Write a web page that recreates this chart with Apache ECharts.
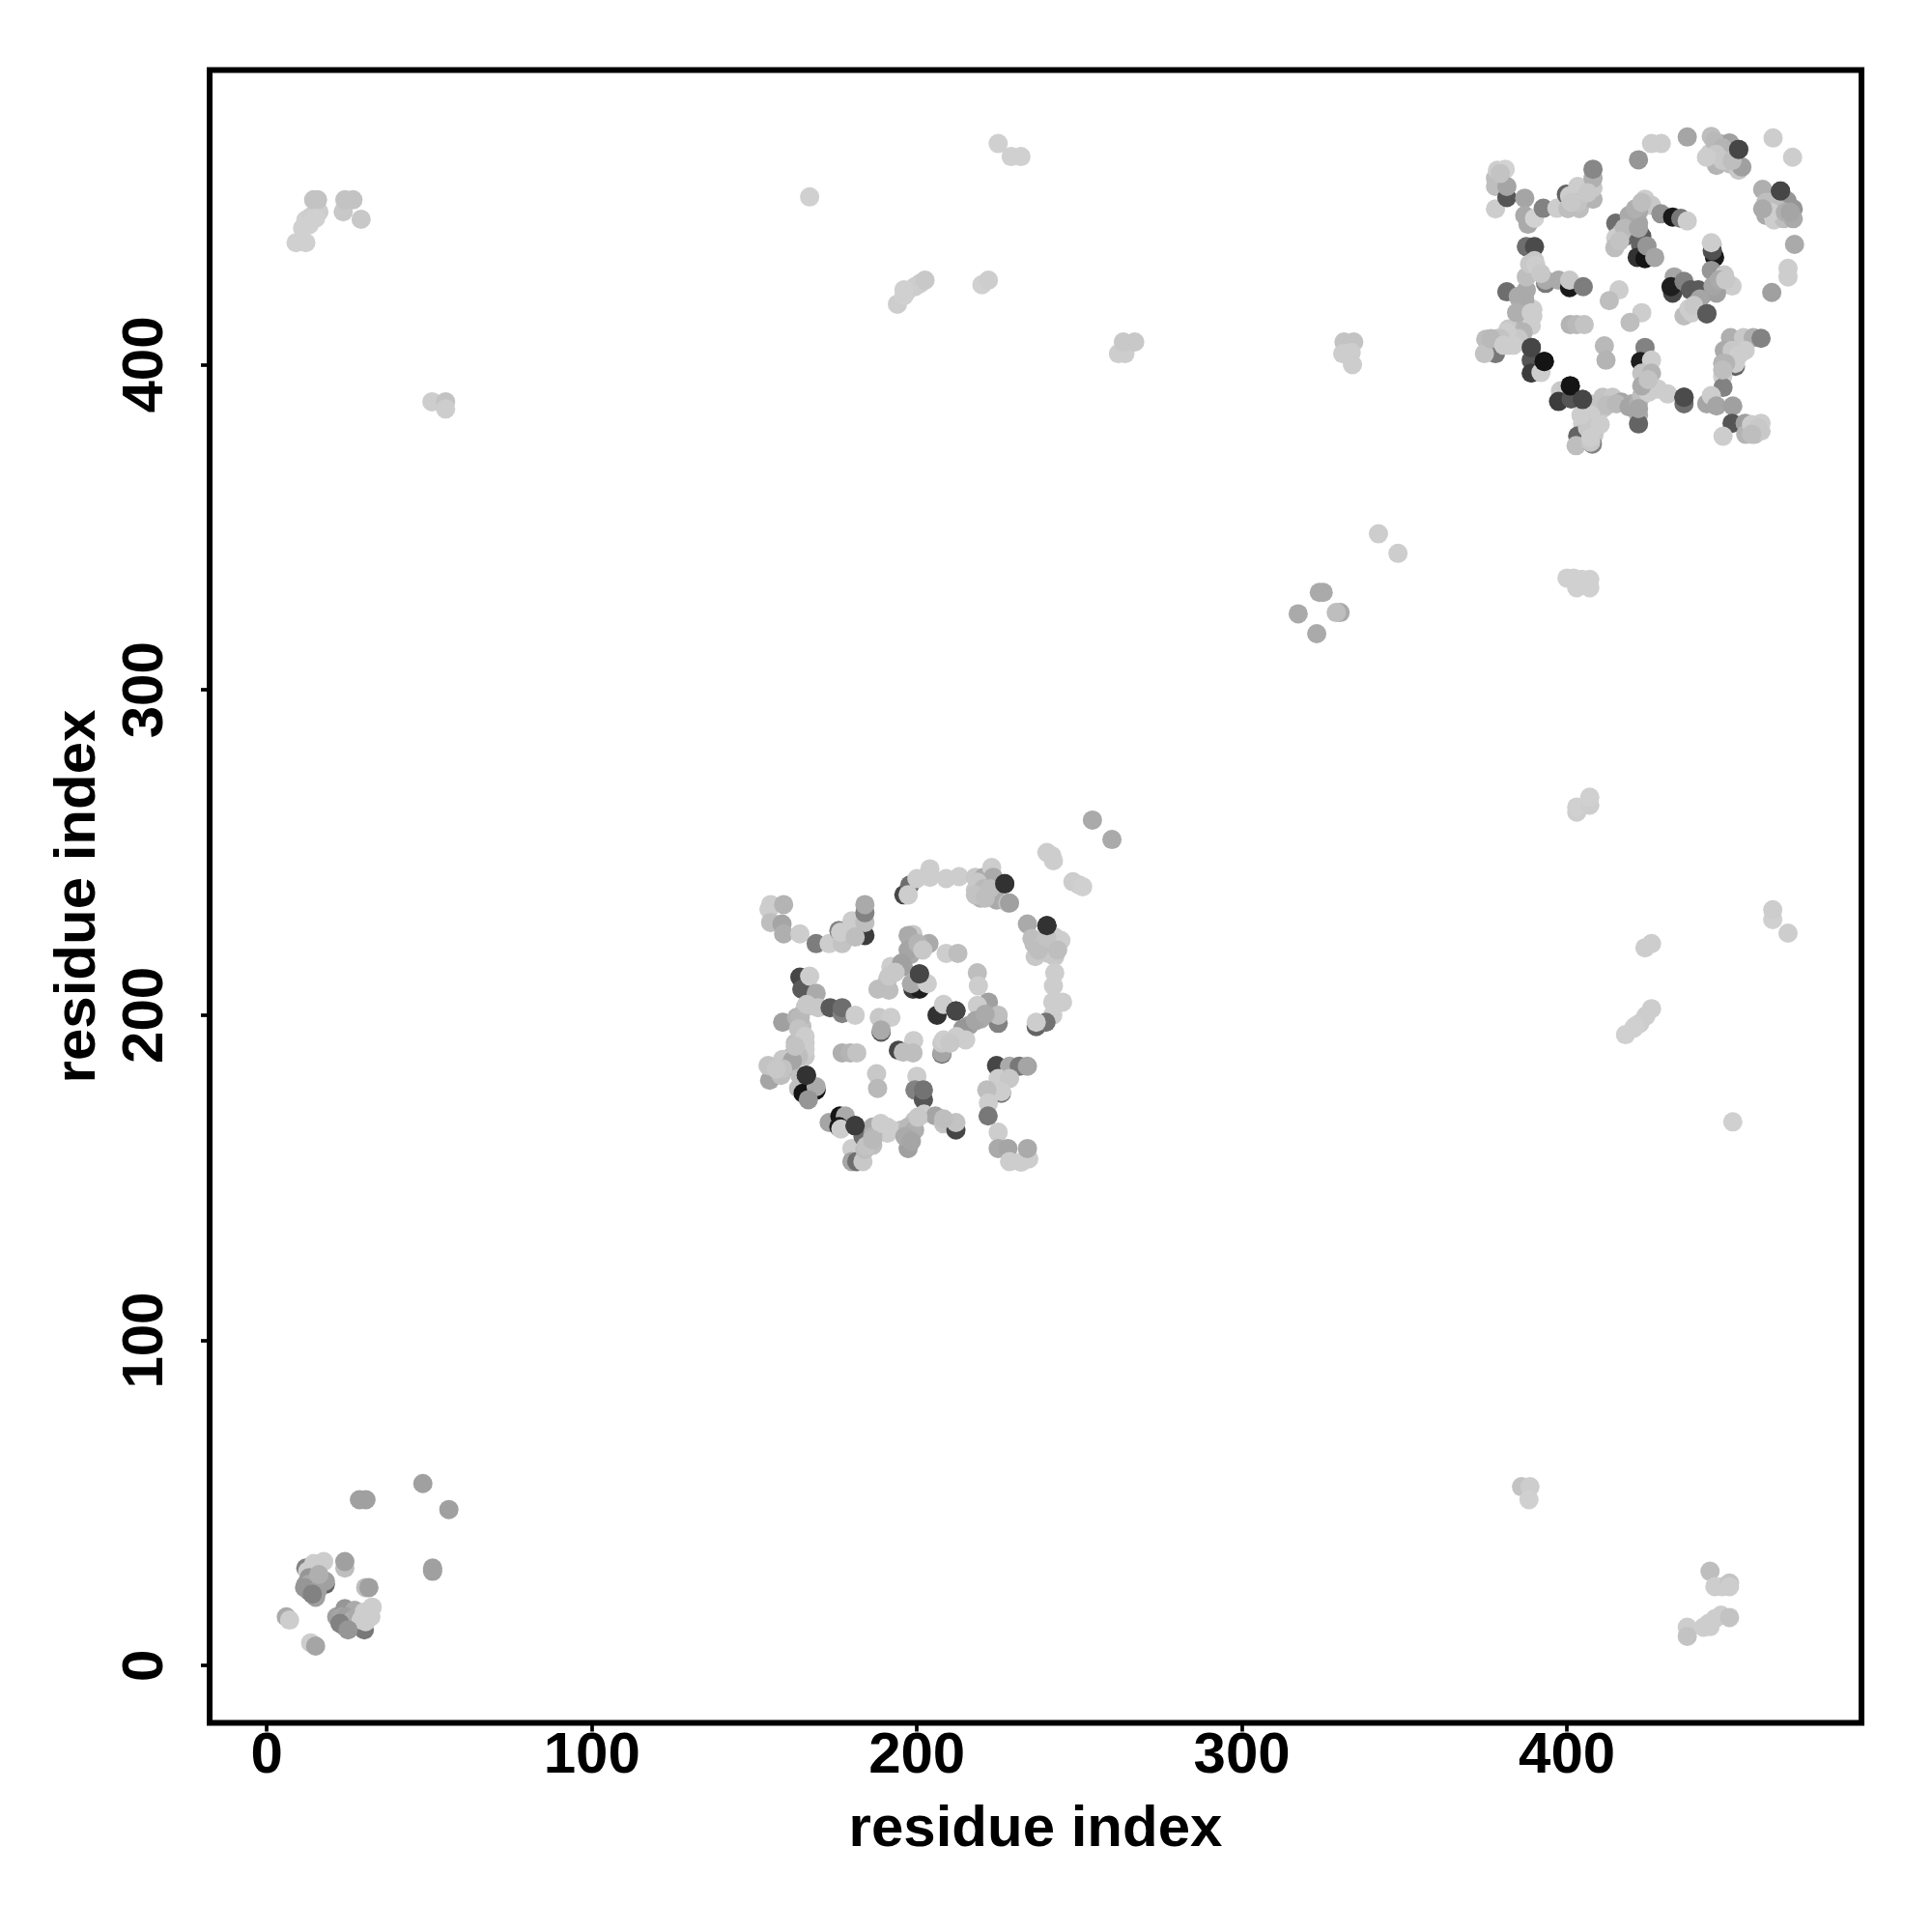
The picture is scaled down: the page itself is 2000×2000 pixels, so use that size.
<!DOCTYPE html>
<html><head><meta charset="utf-8">
<style>html,body{margin:0;background:#fff}#c{width:2000px;height:2000px}</style>
<script src="https://cdn.jsdelivr.net/npm/echarts@6/dist/echarts.min.js"></script></head>
<body><div id="c"></div>
<script>
// each point: [residue x, residue y, grey level]
const tickValues = [0, 100, 200, 300, 400];
const axisTitle = 'residue index';
const isolatedContacts = [
[9,437.5,208],[12,437.5,208],[11,442,208],[12,444.5,208],[13.6,445.5,205],[16,447,205],[14.4,450.7,195],[15.6,450.7,195],[23.5,447,200],[24,450.7,195],[26.5,450.7,195],[29,444.7,200],[13,443,208],[15,445,208],
[167,451.6,208],[225,468,208],[229,464,208],[232,464,208],
[194,418.6,205],[196,421.2,208],[197,422.7,208],[199.4,424,205],[201,425,205],[202.5,426,200],[196,423,208],
[220,424.6,208],[222,426,205],
[262,403.4,205],[264,403.4,205],[263.5,407,200],[267,407,200],
[331.4,407,195],[334.4,407,195],[331,403.4,205],[334,400,205],[333.6,403.8,205],
[50.8,388.6,205],[55,388.6,195],[55,386.4,205],
[342,348,205],[348,342,205],
[323.8,330,170],[325,330,170],[317.3,323.4,170],[330.2,323.8,170],[329,323.8,190],[323,317.3,170],
[400,334.4,208],[402,334.4,208],[404.5,334,208],[407,334,208],[403,331.4,208],[407,331.4,208],
[403,262.4,205],[403,264,208],[407,264.6,205],[407,267,208],
[424,220.7,205],[426,222,205],
[463.3,229.4,208],[463.3,232.4,205],[468,225.2,205],
[418,194,208],[420.5,196,208],[422.4,197.5,205],[424.3,199.8,205],[426,202,205],[421,196.6,208],
[451,167.2,208],
[386,55,195],[388.6,55,205],[388.3,51,208],
[444,29,190],[445.5,24.3,205],[447.8,24.3,205],[450,25.4,195],[450,24.3,205],
[437,11.8,205],[437,9,195],[442,11.8,205],[443.6,13,205],[445.5,14.4,205],[447.4,15.5,205],[450,14.8,195],[444,12,205],
[240,250,205],[241.5,249,205],[242,247.5,205],[248,241,205],[250,240,205],[251,239.5,208],
[254,260,170],[260,254,170]
];
const clusterNearOrigin = [
[28.5,51,160],[30.5,51,160],[48,56,160],[56,48,160],[51,30,160],[51,29,160],
[24,30,190],[24,32,160],[30.4,24,190],[31.4,24,160],
[12,30,130],[12,25,160],[13,23,130],[15,21,160],[12.6,29,205],[16.5,26,170],[18,25,100],[18,26,160],[14.5,31.4,205],[17.5,32,205],
[6,15,170],[7,14,205],[13.5,7,205],[15,6,165],
[21.5,15,160],[24,17.5,150],[23.5,13,120],[24,12,160],[27,17,170],[28,12,170],[30,11,120],[30,15,205],[32.4,18,205],[32,15,205],[30.4,13.5,205]
];
const clusterMiddle = [
[197.3,237,205],[196,237,70],[197.8,240,110],[197.3,237,205],[200,242,205],[204,245,205],[204,242.4,205],[209,242,205],[213,242.6,205],[218,242.4,200],[220.6,242.4,170],[223,245.4,205],[223.5,242.4,170],[218,238.4,200],[219.6,236,180],[224.5,235.4,170],[227,240.4,50],[228,234.5,195],[228.5,234.5,160],
[155,234,205],[154.5,232.5,205],[159,234,180],[155,228.5,190],[158.5,228,165],[159,225,175],[164,225,205],[169,222,125],[173,222,205],[177,222,195],[176,226,130],[176.5,225.5,205],[180,229,205],[184,224.5,60],[181,224,190],[184,228.5,190],[184,231.5,130],[184,234,170],
[234,228,170],[240,227.5,50],[235.4,223.6,190],[236.4,218,200],[242.8,221,160],[244.3,223,205],[242.4,224,205],[242.4,218,200],[242.4,213,205],[242,209,205],[244.8,204,205],[241.8,204,205],[241.8,200,205],[236.7,196.5,100],[239.7,197.8,115],[236.7,197.8,205],
[198.8,224.8,200],[197.3,224.5,170],[198,218.6,170],[195.8,215,160],[192,215,205],[201,221,190],[203.7,222,170],[209,219,205],[212.6,219,190],[191,211,195],[188,208,190],[191.4,207.7,190],[198.8,208,60],[200.8,208,30],[198.3,209.7,170],[200.8,212.7,70],[203.2,209.7,205],
[218.6,213,190],[218.9,209,205],[206.2,200,50],[208.2,203.3,205],[212,201.3,70],[222,204,160],[218.6,203,205],[225,197.5,130],[225,200,190],[219.6,198.8,170],[216,196.8,160],[214.1,195.8,150],[212,193,205],[215,192.4,205],[207.7,188,100],[207.7,188.4,165],[207.7,191.4,200],[208.2,192.4,205],
[164,211.7,70],[164.6,208,90],[167,212,205],[169,206.7,170],[165.6,202.3,200],[169.6,202.3,200],[173.3,202.3,90],[177,200.5,130],[177,202.3,110],[181,200,205],[158.7,197.8,160],[163,199.3,180],[164.6,196.5,190],[162.6,191.4,190],[165.6,191.4,205],[165.6,187.4,200],[161.7,187.4,170],[158.7,186.4,200],[154.7,180,165],[154.2,184.5,195],[158.2,181.5,190],[161,184.5,130],[164,181.5,190],[166,181.5,50],[163.6,177.5,190],[165,176,20],[169,177,20],[169,178,170],[166.6,174,150],
[177,188.4,175],[179.5,188.4,180],[181.5,188.4,195],[188.4,199.3,200],[192,199.3,205],[189,194.8,90],[189,195.4,170],[199,192.2,205],[194.3,189.2,70],[195.8,188.6,190],[198.8,188.4,190],[187.6,182,200],[187.9,177.5,185],[200,181.2,205],[199.4,177,130],[202,174,85],[202,177,115],
[173,167,165],[176.3,169,20],[178,169,170],[176,165.7,25],[176.6,165,205],[181,166,60],[180,159,205],[180,155,165],[181.5,155,110],[183.4,155,200],[184,158.7,190],[183.4,162.7,110],[186.4,165.6,170],[186.4,160,190],[190.9,165.6,205],[190.9,163.7,205],[195.3,164.7,190],[197.3,159,160],[198.3,163.7,175],[199.3,167.6,195],[202.2,169.6,205],[205.7,169,165],[208.2,166.6,195],[212,164.7,70],[212,167,195],
[224.5,184.5,70],[228.5,184.3,170],[231.5,184.3,120],[234,184.3,165],[225,180.5,205],[228.5,180.5,200],[226,176,120],[226,176.5,205],[221.5,177,190],[222,173,205],[221.9,169,120],[225,164,205],[225,159,170],[228,159,165],[228.5,155,205],[232,154.8,205],[234.4,155.8,205],[234,159,170]
];
const clusterUpperRight = [
[378,454.8,190],[378,457.3,190],[378.6,459.8,205],[381,460.1,210],[378,447.9,205],[381.5,451.4,85],[381.5,454.8,165],[387,451.2,165],[388,443.2,170],[387,445.9,170],[390,445,210],[392.7,448.1,130],[396.9,448.1,205],[399.8,452.4,100],[400.3,448,190],[403.8,448,190],[400.8,451.9,205],[403.3,454.8,205],[403.3,451.4,205],[408,450.9,180],[408,454.4,200],[408,457.3,175],[408,460.1,135],
[422,463,150],[426,468,205],[429,468,205],[437,470,165],
[444.4,470.2,190],[444,465,205],[447,468,180],[450,468.2,160],[444.4,463.8,205],[446,461.3,180],[448,464.7,190],[450,461.8,190],[452.8,459.8,200],[453.8,460.8,160],[452.8,466.2,70],
[463.4,469.7,205],[469.4,463.8,205],
[460.2,453.9,175],[461.2,445.9,170],[462.7,449.9,200],[463.7,444.5,205],[465.7,453.4,70],[467.7,450.4,150],[466.7,444.9,190],[469.6,447.9,150],[469.6,444.9,170],[470,437,170],[468,429.6,205],[468,427,205],[463,422.2,160],
[424,450.9,205],[426,449,200],[428.9,446.4,145],[432.5,445.4,25],[435,445,120],[437,444.2,205],[422,447,170],[420,444,170],[422,443.5,165],[415,443.5,110],[418,439.5,100],[416.7,440.5,190],[415,439,205],[414.7,436,190],[423,439.5,90],[422.6,437,100],[421.6,433,50],[424,432.6,20],[424.6,436.5,150],[427,433,165],
[444.7,437,195],[445.4,433,25],[444.7,435,80],[444.4,437.5,205],[444.4,429,150],[448.4,427.6,200],[450.8,424.2,205],[444,423,160],[442,421.7,160],[446,422,160],[443,415.7,90],[436,415,190],[438.5,416,205],[433,427,165],[432.5,422,70],[432,424,30],[436,425.6,130],[438,423,90],[440.4,423,90],
[387.5,436.3,110],[390,436.3,75],[390,432,200],[390,429,200],[381.5,422.4,110],[393.4,425,120],[393.4,426,170],[397.4,426,170],[400.8,423.7,25],[400.8,426,200],[405,424,125],[387.5,423,170],[385.5,420,170],[386,416,175],[389.5,417,205],[389.5,415,205],[386.5,411,180],
[375,407.8,190],[378,403.4,120],[374.6,403.4,195],[378.5,408,190],[382,411,200],[382,406,200],[389,401.4,85],[389,405.3,70],[389,397.4,60],[392,397.6,205],[393,401,20],
[401,412.3,180],[403,412.3,185],[405.3,412.3,195],[416,423,205],[413,419.7,190],[423,416,205],[419.4,413,190],[411.5,405.8,185],[412,401.4,180],[424,405.3,130],[422.6,401,30],[426,401.4,205],[423,397.4,195],[426,397.4,180],
[401,393.5,20],[398,392,200],[397.4,388.7,60],[401.3,389.5,85],[404.8,389.3,70],[407.3,388,200],[411,390,195],[414,390,200],[416.7,388.5,165],[420,388,170],[422,384.6,170],[422,381.8,100],[423.6,392.5,180],[427,392.5,205],[431,391,205],[436,388,110],[436,390,75],[411,386.5,200],[408,384.5,190],[408.8,381.6,205],[404.8,382,205],[403.3,378.1,100],[408.3,378.5,200],[402.8,375.1,190],[407.8,375.6,130],[407.3,376.2,200],
[454.8,406.8,100],[450.3,408.3,175],[454.3,408.3,200],[457.3,408.3,175],[459.7,408.1,130],[448.4,404.4,170],[454.8,404.4,205],[447.9,400.4,180],[451.8,399.5,100],[451.8,400.4,205],[447.9,396.4,205],[448,393,130],[443,388,165],[444.4,390.5,205],[446,387.3,165],[451,387.3,160],[450.8,382,85],[454.8,382,160],[448,378,205],[455,378.6,180],[457.7,378.6,190],[459.7,379.6,200],[459.7,382,205]
];
// lighter contacts that overlap the blobs above
const blobOverlapOrigin = [
[13,27,150],[14.5,25,165],[13,25,170],[11.6,24,150],[15.5,23,160],[16,28,175],[14,22,130],
[23,15,165],[24.4,15,160],[26.4,14,175],[22.5,13,130],[28,15.5,170],[29,14,205],[30,16.5,205],[25,11,150]
];
const blobOverlapMiddle = [
[218.6,240.9,200],[220.6,238.9,185],[218,237,195],[221,236,190],[222.5,238.9,190],
[236,222,190],[238.4,221,195],[240.4,219,200],[237.4,220,190],[239.9,224,195],[243.3,220,190],
[197.3,220,165],[200.3,222,180],[201.8,220,200],[195.3,216,160],[191.4,212,200],[193.3,213.2,200],
[218,198.3,165],[221,200.3,170],[212.2,193.4,205],[210.2,191.4,200],
[164.1,199.3,185],[166.1,203.3,200],[163.6,195.8,195],[165.6,193.4,205],[165.6,189.4,205],[163.6,187.4,190],[161.7,186,165],[158.7,183.5,195],[156.7,183.5,200],[162.6,190.4,195],
[186.4,162.7,180],[188.9,166.7,205],[192.3,164.7,205],[197.3,165.6,185],[199.3,164.7,175],[196.3,162.7,170],[200.3,168.6,200],[208.2,168.1,190],[184.4,159.7,195],[186.4,161.7,185],[198.3,161.2,165]
];
const blobOverlapUpperRight = [
[419.1,445.9,170],[421,447.9,175],[423,449.9,190],[417.7,442,185],[416.2,438,195],[422,442,165],
[387.5,427,190],[388.5,431,200],[390.4,430.6,205],[392,428,200],[385,421,170],[387,420,170],[384.5,416,175],[389,416,205],[389,412,205],[386.5,410,180],[385,408,200],[381.5,410,205],[379.5,408,195],[376.6,408,185],[380.5,406,205],[383.5,406,205],
[409.2,387.5,195],[412.2,387.5,190],[415.2,388,185],[419.1,387,165],[422,388.5,175],[423,390.5,190],[425,391.5,205],[422,386.5,165],[407.3,384.5,205],[406.3,380.6,200],[407.3,377.6,205],[410.2,381.6,205],[404.3,384.5,205],[428,392.5,205],
[379.5,458.8,195],[403.3,449.9,195],[401.3,449.9,200],[406.3,452.9,200],
[445.4,468.7,185],[447.9,466.7,180],[445.9,464.7,200],[447.9,462.8,200],[450.8,462.8,190],[442.9,463.8,205],
[461.2,449.9,190],[464.7,447.9,190],[462.7,446.9,205],[467.2,446.9,175],[468.7,446.9,165],[460.2,447.9,170],
[444.9,424.2,165],[446.9,426.1,170],[448.8,426.1,200],[440.9,420.2,165],[437.5,417.2,205],[439,418.2,200],
[450.8,404.4,200],[452.8,402.9,205],[448.8,400.4,180],[447.9,398.4,190],[456.8,381.6,205],[458.8,380.6,200],[456.8,378.6,190],
[423,393.5,170],[425,395.4,195]
];
// dark contacts that sit on top of their neighbours
const darkOnTop = [
[389,405.3,70],[393,401,20],[452.8,466.2,70],[465.7,453.4,70],[436,390,75],[401,393.5,20],[404.8,389.3,70],[443,415.7,90],
[227,240.4,50],[240,227.5,50],[212,201.3,70],[166,181.5,50],[181,166,60],[200.8,212.7,70]
];
const points = [...isolatedContacts, ...clusterNearOrigin, ...clusterMiddle, ...clusterUpperRight,
  ...blobOverlapOrigin, ...blobOverlapMiddle, ...blobOverlapUpperRight, ...darkOnTop];
const axisBase = {
  type: 'value', min: -17.6, max: 490.6, name: axisTitle, nameLocation: 'middle',
  nameTextStyle: {fontFamily: 'Liberation Sans', fontWeight: 'bold', fontSize: 60, color: '#000'},
  axisLine: {show: false, onZero: false}, splitLine: {show: false},
  axisTick: {show: true, length: 9, inside: false, customValues: tickValues, lineStyle: {color: '#000', width: 3.7}},
  axisLabel: {customValues: tickValues, fontFamily: 'Liberation Sans', fontWeight: 'bold', fontSize: 60, color: '#000'}
};
const chart = echarts.init(document.getElementById('c'), null, {renderer: 'canvas'});
chart.setOption({
  animation: false, backgroundColor: '#fff',
  grid: {left: 217, top: 72.5, width: 1710, height: 1711, show: true, borderColor: '#000', borderWidth: 6, backgroundColor: 'transparent'},
  xAxis: Object.assign({}, axisBase, {nameGap: 81, axisLabel: Object.assign({}, axisBase.axisLabel, {margin: 5})}),
  yAxis: Object.assign({}, axisBase, {nameGap: 106, axisLabel: Object.assign({}, axisBase.axisLabel, {rotate: 90, margin: 36, align: 'center', verticalAlign: 'bottom'})}),
  series: [{type: 'scatter', symbol: 'circle', symbolSize: 20, data: points,
    encode: {x: 0, y: 1},
    itemStyle: {opacity: 1, color: p => { const g = p.data[2]; return `rgb(${g},${g},${g})`; }}}]
});
</script></body></html>
